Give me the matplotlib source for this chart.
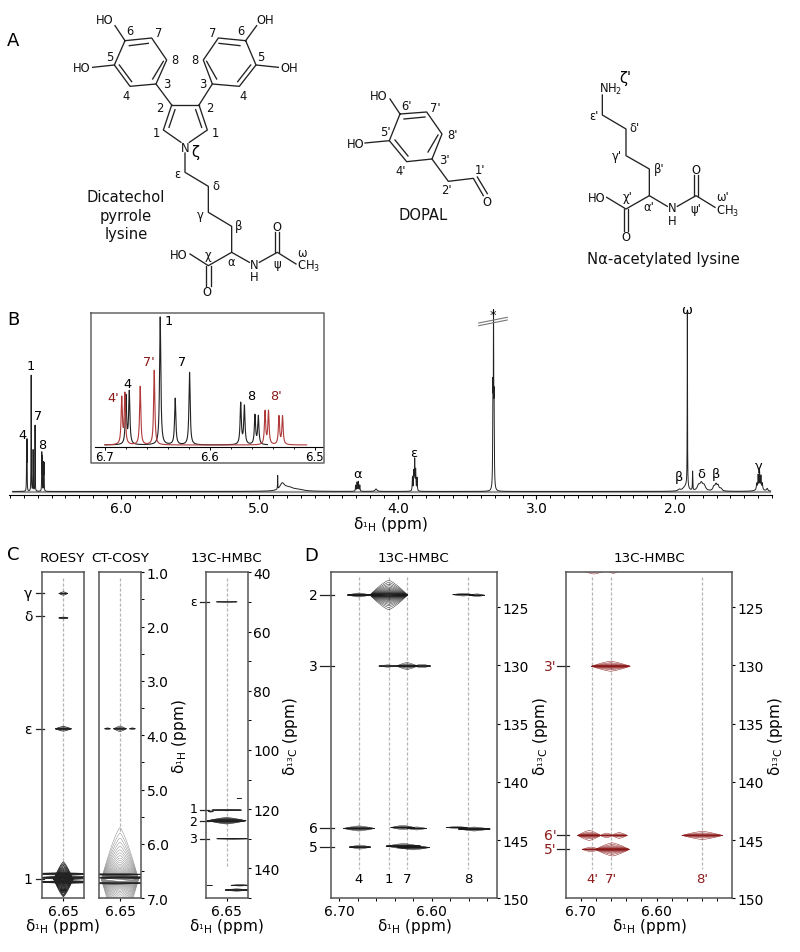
import numpy as np
import matplotlib
matplotlib.use("Agg")
import matplotlib.pyplot as plt
from matplotlib.ticker import MultipleLocator

plt.rcParams['font.family'] = 'DejaVu Sans'
plt.rcParams['mathtext.default'] = 'regular'

RED = '#8b1a1a'
H_LABEL = r'$\delta_{^{1}H}$ (ppm)'
C_LABEL = r'$\delta_{^{13}C}$ (ppm)'

# ---- 1D spectrum: ppm, height, half width
main_ppm = [6.68, 6.677, 6.647, 6.633, 6.619, 6.5705, 6.567, 6.557, 6.554,
            4.868, 4.835, 4.79, 4.72, 4.305, 4.295, 4.285, 4.275, 4.158,
            3.895, 3.885, 3.879, 3.872, 3.862, 3.314, 3.31, 3.306,
            1.97, 1.93, 1.915, 1.911, 1.873, 1.83, 1.81, 1.79, 1.72, 1.705, 1.69, 1.67,
            1.41, 1.40, 1.39, 1.39, 1.38, 1.37, 1.335]
main_height = [46, 48, 116, 41, 66, 37, 33, 27, 26,
               13.5, 7, 3.5, 1.5, 6, 9, 9.6, 6, 2.5,
               14, 18, 30, 20, 13, 95, 165, 85,
               1.5, 3, 4, 173, 19, 5, 7, 5, 4, 6, 5, 2.5,
               6, 13, 16, 4, 12, 6, 2.5]
main_width = [.001, .001, .001, .001, .001, .001, .001, .001, .001,
              .001, .02, .04, .05, .002, .002, .002, .002, .008,
              .002, .002, .002, .002, .002, .002, .0012, .002,
              .01, .02, .012, .0012, .0015, .012, .012, .012, .008, .008, .008, .01,
              .003, .002, .002, .02, .002, .003, .006]

# inset, black and red traces
inset_black_ppm = [6.68, 6.6768, 6.6473, 6.633, 6.6193, 6.5705, 6.567, 6.5569, 6.5537]
inset_black_height = [48, 52, 127, 46, 72, 41, 38, 29, 28]
inset_red_ppm = [6.684, 6.681, 6.6664, 6.653, 6.5473, 6.544, 6.534, 6.5306]
inset_red_height = [46, 50, 58, 74, 33, 33, 28, 28]
inset_ticks = [6.7, 6.6, 6.5]

# ---- 2D cross peaks: ppm 1H, ppm other, half extent x, half extent y, contour count
roesy_peaks = [(6.65, 1.39, .0082, .03, 3), (6.65, 1.84, .0088, .015, 2), (6.65, 3.88, .015, .043, 5),
               (6.65, 6.65, .018, .32, 30), (6.64, 6.62, .06, .035, 6), (6.655, 6.55, .06, .02, 3),
               (6.64, 6.70, .06, .025, 4), (6.65, 6.85, .006, .1, 5)]
cosy_peaks = [(6.65, 3.88, .012, .05, 6), (6.6735, 3.88, .0057, .018, 2), (6.6265, 3.88, .0057, .018, 2)]
cosy_dome = [(6.65, 6.65, .035, .95, 30)]
cosy_bands = [(6.64, 6.62, .06, .03, 6), (6.66, 6.56, .06, .02, 3), (6.66, 6.72, .06, .02, 3)]
hmbc_c_peaks = [(6.65, 50, .02, .15, 2), (6.65, 120.3, .0283, .25, 3), (6.68, 120.8, .005, .2, 2),
                (6.65, 123.9, .0365, 1.1, 15), (6.638, 130, .031, .17, 3), (6.626, 116.4, .005, .1, 1),
                (6.682, 145.7, .006, .1, 1), (6.625, 145.7, .017, .25, 3), (6.631, 147.3, .022, .4, 5)]
hmbc_d_peaks = [(6.6787, 123.95, .0125, .17, 8), (6.6465, 123.95, .0204, 1.26, 22),
                (6.5658, 123.92, .0115, .12, 5), (6.551, 123.97, .0085, .12, 5),
                (6.6476, 130.05, .0097, .1, 4), (6.6267, 130.05, .0116, .3, 8), (6.6105, 130.05, .0094, .15, 5),
                (6.6787, 144.0, .017, .22, 9), (6.6314, 143.92, .013, .18, 7), (6.6162, 144.0, .0108, .13, 5),
                (6.5729, 143.92, .0116, .09, 4), (6.5539, 144.05, .0173, .17, 8),
                (6.6776, 145.6, .0116, .17, 6), (6.6307, 145.52, .0188, .22, 9), (6.6199, 145.64, .0177, .2, 9)]
hmbc_red_peaks = [(6.6825, 121.9, .014, .25, 4), (6.657, 121.9, .0066, .2, 3),
                  (6.6605, 130.07, .0255, .43, 10),
                  (6.6887, 144.6, .0154, .43, 9), (6.6658, 144.6, .0088, .2, 5), (6.6492, 144.6, .0105, .25, 6),
                  (6.54, 144.6, .0268, .35, 8),
                  (6.6864, 145.8, .0118, .2, 5), (6.6584, 145.8, .0224, .57, 12)]

# guide lines and assignments
d_lines = [6.6787, 6.6465, 6.6267, 6.5604]
d_line_labels = ['4', '1', '7', '8']
d_row_ppm = [123.95, 130.05, 144.0, 145.6]
d_row_labels = ['2', '3', '6', '5']
red_lines = [6.6847, 6.6605, 6.5408]
red_line_labels = ["4'", "7'", "8'"]
red_row_ppm = [130.05, 144.6, 145.8]
red_row_labels = ["3'", "6'", "5'"]
roesy_rows = [1.39, 1.81, 3.88, 6.65]
roesy_row_labels = ['γ', 'δ', 'ε', '1']
hmbc_c_rows = [50, 120.3, 123.9, 130]
hmbc_c_row_text_y = [50, 119.9, 124.3, 130]
hmbc_c_row_labels = ['ε', '1', '2', '3']

# ---- chemical structures, in zoomed picture units (x, y)
catechol_bonds = [
    [(375,125),(455,117),(500,183),(468,255),(390,262),(343,198),(375,125)],
    [(388,140),(445,133)], [(490,187),(458,240)], [(395,248),(358,198)],
    [(375,125),(345,80)], [(343,198),(278,205)], [(468,255),(515,318)],
    [(737,125),(655,117),(610,183),(637,255),(718,262),(768,198),(737,125)],
    [(657,133),(720,140)], [(620,187),(650,240)], [(713,248),(752,198)],
    [(737,125),(770,80)], [(768,198),(835,205)], [(637,255),(597,318)],
    [(515,318),(597,318)], [(597,318),(622,393),(568,430)], [(515,318),(490,393),(543,430)],
    [(525,332),(507,385)], [(587,332),(605,385)],
    [(555,462),(555,520),(625,562),(625,640),(695,682),(695,760),(625,800),(570,765)],
    [(618,800),(618,860)], [(632,800),(632,860)],
    [(695,760),(748,790)], [(778,790),(832,760),(888,795)],
    [(826,760),(826,700)], [(838,760),(838,700)],
]
catechol_labels = [
    ('HO',313,63),('6',390,95),('7',475,100),('5',328,172),('HO',245,207),('8',526,180),('3',500,253),
    ('4',378,288),('2',480,327),('1',468,400),('N',555,445),('ε',531,523),('δ',647,560),('γ',600,645),
    ('β',716,680),('χ',625,765),('α',693,788),('HO',537,767),('O',622,878),('N',762,797),('H',762,833),
    ('O',832,682),('ψ',832,793),('ω',905,760),('CH$_3$',925,800),
    ('OH',797,63),('7',638,100),('6',724,95),('8',585,180),('5',782,172),('OH',867,207),('3',608,253),
    ('4',730,288),('2',628,327),('1',645,400),
]
dopal_bonds = [
    [(1200,345),(1280,339),(1326,405),(1296,480),(1220,488),(1168,425),(1200,345)],
    [(1212,360),(1275,354)], [(1314,408),(1284,459)], [(1224,471),(1185,423)],
    [(1200,345),(1170,300)], [(1168,425),(1095,432)],
    [(1296,480),(1345,547),(1420,538),(1450,590)], [(1432,534),(1462,584)],
]
dopal_labels = [
    ('HO',1137,288),("6'",1220,320),("7'",1307,325),("8'",1358,407),("3'",1332,480),("4'",1203,515),
    ("5'",1155,396),('HO',1068,433),("2'",1340,573),("1'",1440,513),('O',1462,608),
]
lysine_bonds = [
    [(1807,288),(1807,348),(1878,390),(1878,470),(1948,510),(1948,590),(1878,630),(1820,595)],
    [(1872,630),(1872,695)], [(1884,630),(1884,695)],
    [(1948,590),(2002,622)], [(2032,622),(2088,590),(2145,625)],
    [(2082,590),(2082,528)], [(2094,590),(2094,528)],
]
lysine_labels = [
    ('NH$_2$',1832,268),("ε'",1782,350),("δ'",1905,387),("γ'",1852,470),("β'",1977,507),("χ'",1882,593),
    ('HO',1790,597),("α'",1945,622),('N',2018,627),('H',2018,665),('O',2088,512),("ψ'",2087,627),
    ("ω'",2168,593),('CH$_3$',2182,635),('O',1877,713),
]

# peak annotations on panel B, picture pixels
main_labels = [('4',22.3,436),('1',30.3,367),('7',37.7,417),('8',42.3,446),('α',358,474.7),('ε',413.7,454),
               ('*',493,316),('ω',687,311),('β',679,478),('δ',701,475),('β',716,475),('γ',759,467)]
inset_labels = [('1',168.7,322),('7',182,363),('8',250.7,397),('4',127,384.7)]
inset_red_labels = [("7'",148.7,363),("4'",113,398.7),("8'",276,397)]


def px_axes(fig, x0, y0, x1, y1):
    return fig.add_axes([x0 / 800, 1 - y1 / 953, (x1 - x0) / 800, (y1 - y0) / 953])


def lineshape(grid, ppm, height, width):
    total = np.zeros_like(grid)
    for p, h, w in zip(ppm, height, width):
        total += h * w ** 2 / ((grid - p) ** 2 + w ** 2)
    return total


def draw_peaks(ax, peaks, color, lw=0.4):
    # nested lenses: every contour ends at the same tips, only the height changes
    for x0, y0, hx, hy, n in peaks:
        xs = np.linspace(x0 - 1.02 * hx, x0 + 1.02 * hx, 240)
        ys = np.linspace(y0 - 1.05 * hy, y0 + 1.05 * hy, 240)
        X, Y = np.meshgrid(xs, ys)
        edge = 1 - np.abs((X - x0) / hx) ** 1.3
        Z = np.where(edge > 0, np.abs(Y - y0) / hy / np.maximum(edge, 1e-6), 5.0)
        ax.contour(X, Y, np.minimum(Z, 5.0), levels=np.geomspace(0.04, 1.0, n), colors=color, linewidths=lw)


def frame(ax, xlim, ylim):
    ax.set_xlim(xlim)
    ax.set_ylim(ylim)
    ax.yaxis.tick_right()
    ax.tick_params(labelsize=10, length=2.5, width=0.8, pad=1.5)
    ax.tick_params(which='minor', length=1.8, width=0.7)
    for s in ax.spines.values():
        s.set_color('#555555')
        s.set_linewidth(1.1)


def row_marks(ax, rows, labels, left, right, label_x, color='k', size=10, text_y=None):
    trans = ax.get_yaxis_transform()
    for r, t, ty in zip(rows, labels, text_y or rows):
        ax.plot([left, right], [r, r], transform=trans, color='#222222', lw=0.9, clip_on=False)
        ax.text(label_x, ty, t, transform=trans, ha='center', va='center', fontsize=size, color=color)


def guide(ax, x, y0, y1):
    ax.plot([x, x], [y0, y1], color='#b5b5b5', lw=0.9, ls=(0, (2.5, 1.5)), zorder=1)


fig = plt.figure(figsize=(8, 9.53), dpi=100)

# ---- panel B
ax = px_axes(fig, 9, 310, 772, 496)
grid = np.concatenate([np.linspace(6.78, 6.5, 6000), np.linspace(6.5, 1.31, 24000)])
ax.axhline(0, xmin=0.005, xmax=0.998, color='#999999', lw=1.6, zorder=1)
ax.plot(grid, lineshape(grid, main_ppm, main_height, main_width), color='#222222', lw=0.7, zorder=2)
ax.set_xlim(6.807, 1.30)
ax.set_ylim(-3.5, 182.5)
ax.patch.set_alpha(0)
for s in ['top', 'left', 'right']:
    ax.spines[s].set_visible(False)
ax.set_yticks([])
ax.set_xticks([6.0, 5.0, 4.0, 3.0, 2.0])
ax.set_xticklabels(['6.0', '5.0', '4.0', '3.0', '2.0'])
ax.xaxis.set_minor_locator(MultipleLocator(0.1))
ax.tick_params(labelsize=10, length=2.8, width=0.8, pad=1.5)
ax.tick_params(which='minor', length=2, width=0.7)
ax.set_xlabel(H_LABEL, fontsize=11, labelpad=-1)

# ---- inset
ins = px_axes(fig, 95, 314, 323, 448)
g_black = np.linspace(6.70, 6.545, 5000)
g_red = np.linspace(6.70, 6.5076, 6000)
ins.plot(g_black, lineshape(g_black, inset_black_ppm, inset_black_height, [.0007] * 9) + 1,
         color='#222222', lw=0.8)
ins.plot(g_red, lineshape(g_red, inset_red_ppm, inset_red_height, [.0007] * 8) + 1, color='#b03a3a', lw=0.8)
ins.set_xlim(6.7095, 6.492)
ins.set_ylim(-1, 132)
ins.patch.set_alpha(0)
for s in ['top', 'left', 'right']:
    ins.spines[s].set_visible(False)
ins.set_yticks([])
ins.set_xticks(inset_ticks)
ins.set_xticklabels(['6.7', '6.6', '6.5'])
ins.xaxis.set_minor_locator(MultipleLocator(0.02))
ins.tick_params(labelsize=8.5, length=1.8, width=0.7, pad=0.5)
ins.tick_params(which='minor', length=1.3, width=0.6)

# ---- panel C
a1 = px_axes(fig, 41.7, 573.3, 84, 899.3)
guide(a1, 6.65, 1.1, 6.9)
draw_peaks(a1, roesy_peaks, '#222222', lw=0.55)
frame(a1, (6.691, 6.611), (7.0, 1.0))
a1.set_xticks([6.65])
a1.set_xticklabels(['6.65'])
a1.set_yticks([])
a1.set_xlabel(H_LABEL, fontsize=11, labelpad=-1)
row_marks(a1, roesy_rows, roesy_row_labels, -0.14, 0.06, -0.32)

a2 = px_axes(fig, 99.3, 573.3, 141, 899.3)
guide(a2, 6.65, 1.1, 5.8)
draw_peaks(a2, cosy_dome, '#8a8a8a', lw=0.35)
draw_peaks(a2, cosy_peaks + cosy_bands, '#222222')
frame(a2, (6.689, 6.6103), (7.0, 1.0))
a2.set_xticks([6.65])
a2.set_xticklabels(['6.65'])
a2.set_yticks(np.arange(1, 8))
a2.set_yticklabels(['%.1f' % v for v in np.arange(1, 8)])
a2.yaxis.set_minor_locator(MultipleLocator(0.5))
a2.yaxis.set_label_position('right')
a2.set_ylabel(H_LABEL, fontsize=11, labelpad=1)

a3 = px_axes(fig, 206, 573.3, 247.7, 899.3)
guide(a3, 6.65, 42, 140)
draw_peaks(a3, hmbc_c_peaks, '#222222')
frame(a3, (6.689, 6.6103), (150.1, 40))
a3.set_xticks([6.65])
a3.set_xticklabels(['6.65'])
a3.set_yticks(np.arange(40, 150, 20))
a3.yaxis.set_minor_locator(MultipleLocator(10))
a3.set_xlabel(H_LABEL, fontsize=11, labelpad=-1)
a3.yaxis.set_label_position('right')
a3.set_ylabel(C_LABEL, fontsize=11, labelpad=1)
row_marks(a3, hmbc_c_rows, hmbc_c_row_labels, -0.14, 0.06, -0.3, size=9, text_y=hmbc_c_row_text_y)

# ---- panel D
a4 = px_axes(fig, 330.7, 573.3, 497.3, 899.3)
for x in d_lines:
    guide(a4, x, 122.4, 147.5)
draw_peaks(a4, hmbc_d_peaks, '#1a1a1a', lw=0.32)
frame(a4, (6.7093, 6.529), (150, 122))
a4.set_xticks([6.70, 6.60])
a4.set_xticklabels(['6.70', '6.60'])
a4.xaxis.set_minor_locator(MultipleLocator(0.02))
a4.set_yticks([125, 130, 135, 140, 145, 150])
a4.set_xlabel(H_LABEL, fontsize=11, labelpad=-1)
a4.yaxis.set_label_position('right')
a4.set_ylabel(C_LABEL, fontsize=11, labelpad=1)
row_marks(a4, d_row_ppm, d_row_labels, -0.064, 0.022, -0.105)
for x, t in zip(d_lines, d_line_labels):
    a4.text(x, 148.3, t, ha='center', va='center', fontsize=9.5)

a5 = px_axes(fig, 565.7, 573.3, 732.3, 899.3)
for x in red_lines:
    guide(a5, x, 122.4, 147.5)
draw_peaks(a5, hmbc_red_peaks, RED, lw=0.35)
frame(a5, (6.7197, 6.5005), (150, 122))
a5.set_xticks([6.70, 6.60])
a5.set_xticklabels(['6.70', '6.60'])
a5.xaxis.set_minor_locator(MultipleLocator(0.02))
a5.set_yticks([125, 130, 135, 140, 145, 150])
a5.set_xlabel(H_LABEL, fontsize=11, labelpad=-1)
a5.yaxis.set_label_position('right')
a5.set_ylabel(C_LABEL, fontsize=11, labelpad=1)
row_marks(a5, red_row_ppm, red_row_labels, -0.054, 0.022, -0.09, color=RED)
for x, t in zip(red_lines, red_line_labels):
    a5.text(x, 148.3, t, ha='center', va='center', fontsize=9.5, color=RED)

# ---- overlay in picture pixels
ov = fig.add_axes([0, 0, 1, 1], zorder=10)
ov.set_xlim(0, 800)
ov.set_ylim(953, 0)
ov.axis('off')
ov.patch.set_alpha(0)

for text, x, y in [('A', 13, 41), ('B', 13, 320), ('C', 13, 555), ('D', 311, 556)]:
    ov.text(x, y, text, fontsize=13, ha='center', va='center')
for text, x in [('ROESY', 62), ('CT-COSY', 120), ('13C-HMBC', 226.7), ('13C-HMBC', 413), ('13C-HMBC', 649)]:
    ov.text(x, 559, text, fontsize=9.7, ha='center', va='center')

# inset box, break mark
ov.plot([90.7, 324.3, 324.3, 90.7, 90.7], [313.7, 313.7, 464.3, 464.3, 313.7], color='#666666', lw=1.1)
ov.plot([478.7, 507.3], [324, 318.3], color='#777777', lw=0.8)
ov.plot([478.7, 507.3], [326.7, 321], color='#777777', lw=0.8)

for text, x, y in main_labels + inset_labels:
    ov.text(x, y, text, fontsize=9.3, ha='center', va='center')
for text, x, y in inset_red_labels:
    ov.text(x, y, text, fontsize=9.3, ha='center', va='center', color=RED)

for bonds, labels in [(catechol_bonds, catechol_labels), (dopal_bonds, dopal_labels), (lysine_bonds, lysine_labels)]:
    for b in bonds:
        pts = np.array(b) / 3
        ov.plot(pts[:, 0], pts[:, 1], color='#222222', lw=0.95)
    for text, x, y in labels:
        ov.text(x / 3, y / 3, text, fontsize=8.3, ha='center', va='center', color='#111111')
ov.text(587 / 3, 458 / 3, 'ζ', fontsize=10.5, ha='center', va='center')
ov.text(1877 / 3, 235 / 3, "ζ'", fontsize=10.5, ha='center', va='center')

for text, x, y in [('Dicatechol', 126, 197), ('pyrrole', 126, 216), ('lysine', 126, 234.5),
                   ('DOPAL', 423, 215), ('Nα-acetylated lysine', 663, 260)]:
    ov.text(x, y, text, fontsize=10.6, ha='center', va='center', color='#111111')

fig.savefig('out.png', dpi=100)
